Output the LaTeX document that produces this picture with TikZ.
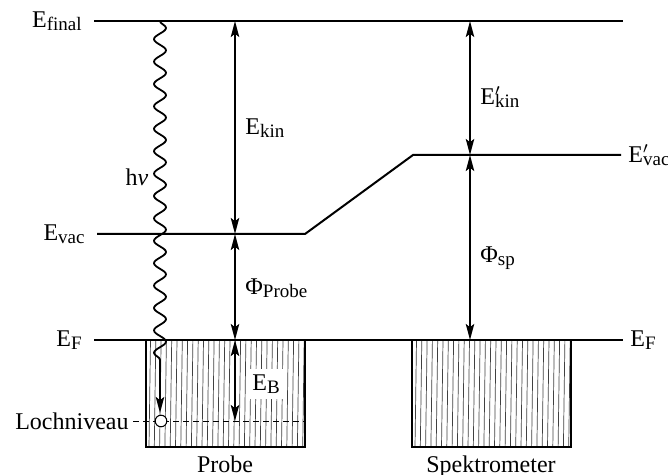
\documentclass[tikz,border=0pt]{standalone}
\usepackage{amsmath}
\usepackage{fontspec}
\setmainfont{Liberation Serif}
\usetikzlibrary{arrows.meta,decorations.pathmorphing}

\newcommand{\sub}[1]{\raisebox{-1.5pt}{\fontsize{9.5}{10}\selectfont #1}}
\newcommand{\lv}[2]{E#1\sub{#2}}
\newcommand{\pr}{\rlap{$'$}}

\begin{document}
\begin{tikzpicture}[
  x=0.5pt,y=-0.5pt,
  font=\fontsize{12}{14}\selectfont,
  level/.style={line width=1pt},
  tip/.tip={Stealth[length=8pt,width=4.2pt,inset=1.6pt]},
  darr/.style={tip-tip,line width=0.9pt},
  hatch/.style={line width=0.35pt,black!75},
  box/.style={line width=0.8pt},
  lbl/.style={inner sep=1pt}
]
\useasboundingbox (0,0) rectangle (668,475);

% Fermi-Niveaus, Vakuum-Niveaus
\coordinate (fin-l) at (94,21);   \coordinate (fin-r) at (623,21);
\coordinate (vac-l) at (97,234);  \coordinate (vac-k) at (305,234);
\coordinate (vsp-k) at (413,155); \coordinate (vsp-r) at (621,155);
\coordinate (ef-l) at (94,340);   \coordinate (ef-r) at (623,340);

% Probe und Spektrometer (schraffiert)
\foreach \x in {149,154.3,...,303}
  \draw[hatch] (\x+1.5,340) -- (\x,447);
\foreach \x in {415,420.3,...,569}
  \draw[hatch] (\x+1.5,340) -- (\x,447);
\draw[box] (146,340) -- (146,447) -- (305,447) -- (305,340);
\draw[box] (412,340) -- (412,447) -- (571,447) -- (571,340);
\node[below=1pt] (probe) at (225,447) {Probe};
\node[below=1pt] (spek) at (491,447) {Spektrometer};

\draw[level] (fin-l) -- (fin-r);
\draw[level] (vac-l) -- (vac-k) -- (vsp-k) -- (vsp-r);
\draw[level] (ef-l) -- (ef-r);

\node[lbl,left=5pt] (tfin) at (fin-l) {\lv{}{final}};
\node[lbl,left=5pt] (tvac) at (vac-l) {\lv{}{vac}};
\node[lbl,left=5pt] (tef) at (ef-l) {\lv{}{F}};
\node[lbl,right=2.5pt] (tvsp) at (vsp-r) {\lv{\pr}{vac}};
\node[lbl,right=2.5pt] (tefr) at (ef-r) {\lv{}{F}};

% Lochniveau
\coordinate (loch-l) at (133,421); \coordinate (loch-r) at (305,421);
\draw[dashed,line width=0.5pt,dash pattern=on 3pt off 2pt] (loch-l) -- (loch-r);
\node[lbl,left=1pt] (tloch) at (loch-l) {Lochniveau};

% Photon
\coordinate (ph-t) at (160,21); \coordinate (ph-b) at (160,413);
\draw[line width=0.9pt,-tip,
  decorate,decoration={snake,amplitude=3pt,segment length=11.2pt,post length=22pt}]
  (ph-t) -- (ph-b);
\node[circle,draw,fill=white,line width=0.5pt,minimum size=5.8pt,inner sep=0pt] (hole) at (161,421) {};
\node[lbl] (thv) at (137,177) {h\textit{ν}};

% Energiepfeile Probe
\coordinate (a1) at (235,21); \coordinate (a2) at (235,234);
\coordinate (a3) at (235,340); \coordinate (a4) at (235,421);
\draw[darr] (a1) -- (a2);
\draw[darr] (a2) -- (a3);
\draw[darr] (a3) -- (a4);
\node[lbl,anchor=west] (tkin) at (243,128) {\lv{}{kin}};
\node[lbl,anchor=west] (tphi) at (243,288) {Φ\sub{Probe}};
\node[lbl,anchor=west,fill=white,inner sep=3pt] (teb) at (246,384) {\lv{}{B}};

% Energiepfeile Spektrometer
\coordinate (b1) at (470,21); \coordinate (b2) at (470,155); \coordinate (b3) at (470,340);
\draw[darr] (b1) -- (b2);
\draw[darr] (b2) -- (b3);
\node[lbl,anchor=west] (tkins) at (478,97) {\lv{\pr}{kin}};
\node[lbl,anchor=west] (tphis) at (478,258) {Φ\sub{sp}};
\end{tikzpicture}
\end{document}
